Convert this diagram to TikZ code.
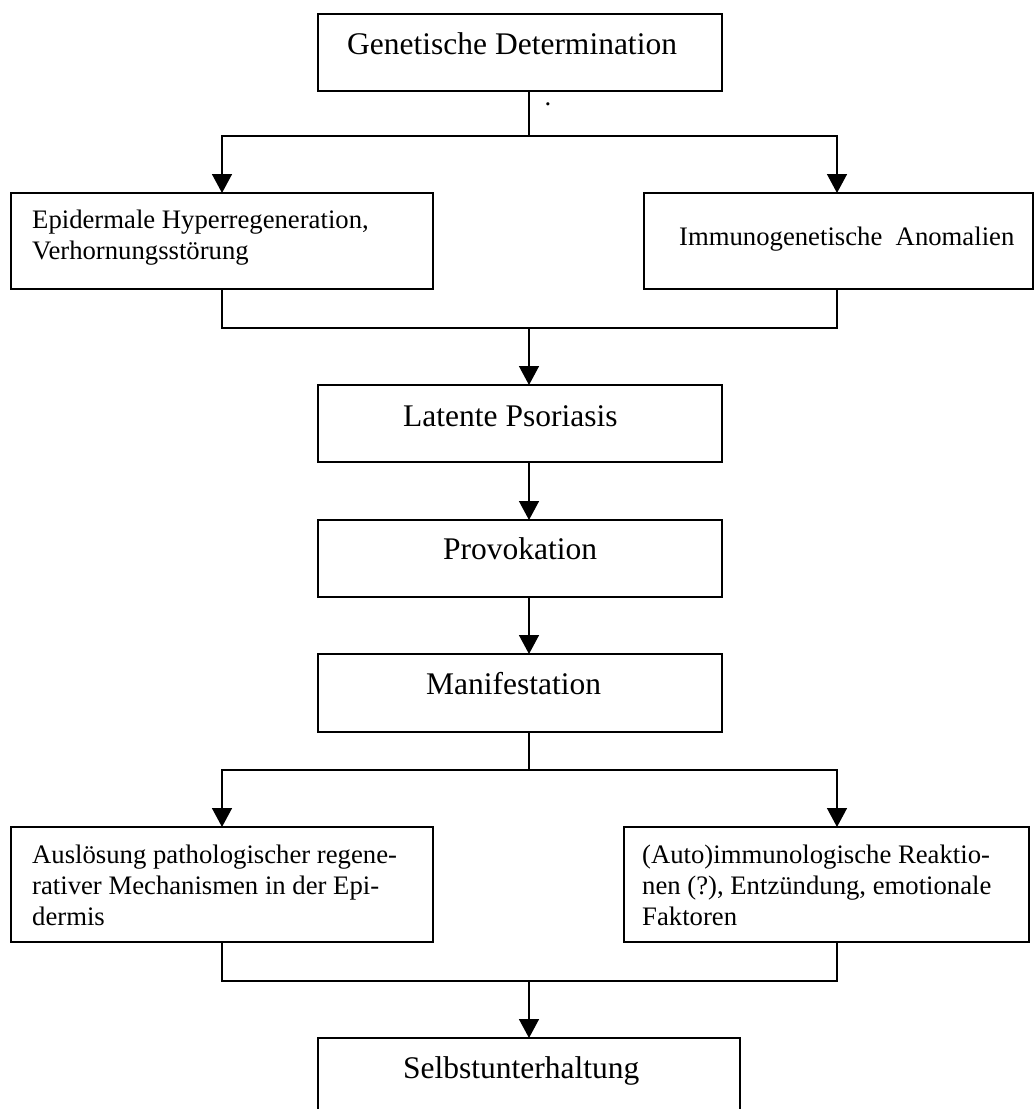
\documentclass[tikz,border=0pt]{standalone}
\usepackage{fontspec}
\setmainfont{Liberation Serif}
\usetikzlibrary{arrows.meta}
\begin{document}
\begin{tikzpicture}[x=1pt,y=-1pt,
  box/.style={draw, line width=1.5pt, inner sep=0pt, outer sep=0pt},
  small/.style={font=\fontsize{26.7}{31}\selectfont, inner sep=0pt, anchor=base west},
  big/.style={font=\fontsize{31.5}{37}\selectfont, inner sep=0pt, anchor=base west},
  conn/.style={line width=1.5pt},
  arr/.style={conn, -{Triangle[width=20pt,length=19pt]}}]
\useasboundingbox (0,0) rectangle (1035,1109);
\clip (0,0) rectangle (1035,1109);
% boxes
\node[box, minimum width=404pt, minimum height=77pt] (g) at (520,52.5) {};
\node[box, minimum width=422pt, minimum height=96pt] (e) at (222,241) {};
\node[box, minimum width=389pt, minimum height=96pt] (i) at (838.5,241) {};
\node[box, minimum width=404pt, minimum height=77pt] (l) at (520,423.5) {};
\node[box, minimum width=404pt, minimum height=77pt] (p) at (520,558.5) {};
\node[box, minimum width=404pt, minimum height=78pt] (m) at (520,693) {};
\node[box, minimum width=422pt, minimum height=115pt] (a) at (222,884.5) {};
\node[box, minimum width=405pt, minimum height=115pt] (r) at (826.5,884.5) {};
\node[box, minimum width=422pt, minimum height=102pt] (s) at (529,1089) {};
% texts
\node[big] (gt) at (347,54) {Genetische Determination};
\node[font=\fontsize{26.7}{31}\selectfont, inner sep=0pt, anchor=base] (dot) at (548,105.5) {.};
\node[small] (e1) at (32,228) {Epidermale Hyperregeneration,};
\node[small] (e2) at (32,259) {Verhornungsstörung};
\node[small] (it) at (679,245) {Immunogenetische\ \ Anomalien};
\node[big] (lt) at (403,426) {Latente Psoriasis};
\node[big] (pt) at (443,559) {Provokation};
\node[big] (mt) at (426,694) {Manifestation};
\node[small] (a1) at (32,863) {Auslösung pathologischer regene-};
\node[small] (a2) at (32,894) {rativer Mechanismen in der Epi-};
\node[small] (a3) at (32,925) {dermis};
\node[small] (r1) at (642,863) {(Auto)immunologische Reaktio-};
\node[small] (r2) at (642,894) {nen (?), Entzündung, emotionale};
\node[small] (r3) at (642,925) {Faktoren};
\node[big] (st) at (403,1078) {Selbstunterhaltung};
% connectors
\coordinate (j1) at (529,136);
\coordinate (j2) at (529,328);
\coordinate (j3) at (529,770);
\coordinate (j4) at (529,981);
\draw[conn] (g.south -| j1) -- (j1);
\draw[arr] (j1) -| (e.north);
\draw[arr] (j1) -| ([xshift=-1.5pt]i.north);
\draw[conn] (e.south) |- (j2) -| ([xshift=-1.5pt]i.south);
\draw[arr] (j2) -- (l.north -| j2);
\draw[arr] (l.south -| j2) -- (p.north -| j2);
\draw[arr] (p.south -| j2) -- (m.north -| j2);
\draw[conn] (m.south -| j3) -- (j3);
\draw[arr] (j3) -| (a.north);
\draw[arr] (j3) -| ([xshift=10.5pt]r.north);
\draw[conn] (a.south) |- (j4) -| ([xshift=10.5pt]r.south);
\draw[arr] (j4) -- (s.north);
\end{tikzpicture}
\end{document}
